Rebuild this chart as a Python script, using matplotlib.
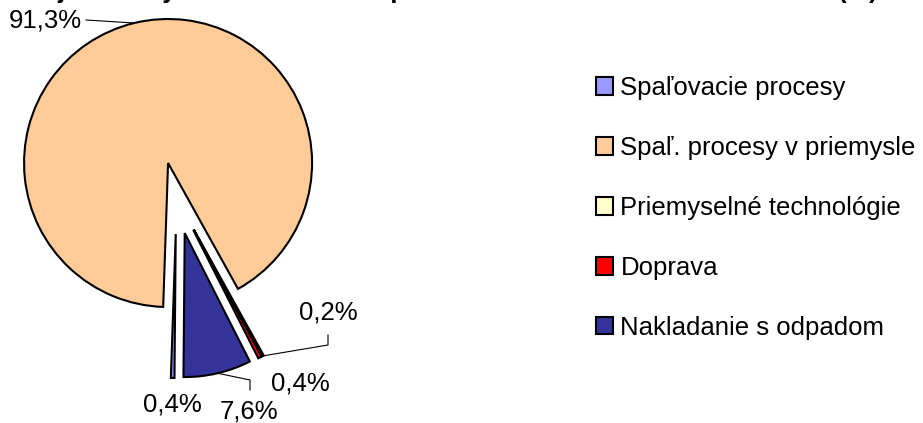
import numpy as np
import matplotlib
matplotlib.use('Agg')
import matplotlib.pyplot as plt

plt.rcParams['font.family'] = ['Liberation Sans', 'DejaVu Sans']

# data (percent)
categories = ['Spaľovacie procesy', 'Spaľ. procesy v priemysle',
              'Priemyselné technológie', 'Doprava', 'Nakladanie s odpadom']
shares = [0.4, 91.3, 0.2, 0.4, 7.6]
colors = ['#9999FF', '#FFCC99', '#FFFFCC', '#FF0000', '#333399']
title = 'Podiel jednotlivých sektorov a skupín na emisiách ortuti a kadmia v SR (%)'

# layout in pixels (y measured from top of image)
W, H = 923, 423
center_px = (176.5, 198)
radius_px = 144
explode_px = 36
# label centre, leader knee and leader end (None = no leader)
label_pos = [(172, 404), (45, 20), (328, 312), (300, 383), (249, 411)]
leader_knee = [None, None, (328, 345), None, (250, 380)]
leader_end = [None, (86, 20), (328, 335), None, (250, 390)]

fig = plt.figure(figsize=(W / 100, H / 100), dpi=100)
ax = fig.add_axes([0, 0, 1, 1])

wedges, _ = ax.pie(shares, colors=colors, startangle=-90.5, counterclock=False,
                   radius=radius_px, center=(center_px[0], H - center_px[1]),
                   explode=[explode_px] * len(shares),
                   wedgeprops=dict(edgecolor='black', linewidth=1.5))
ax.set_xlim(0, W)
ax.set_ylim(0, H)
ax.set_aspect('auto')
ax.axis('off')

for i, w in enumerate(wedges):
    txt = f'{shares[i]:.1f}%'.replace('.', ',')
    lx, ly = label_pos[i]
    ax.text(lx, H - ly, txt, ha='center', va='center', fontsize=18.5)
    if leader_end[i] is None:
        continue
    mid = np.deg2rad((w.theta1 + w.theta2) / 2)
    sx = w.center[0] + w.r * np.cos(mid)
    sy = w.center[1] + w.r * np.sin(mid)
    xs, ys = [sx], [sy]
    if leader_knee[i] is not None:
        xs.append(leader_knee[i][0]); ys.append(H - leader_knee[i][1])
    xs.append(leader_end[i][0]); ys.append(H - leader_end[i][1])
    ax.plot(xs, ys, color='black', lw=0.8)

leg = ax.legend(wedges, categories, loc='center left',
                bbox_to_anchor=(596 / W, 1 - 208 / H), bbox_transform=fig.transFigure,
                frameon=False, fontsize=18.5, handlelength=0.65, handleheight=0.65,
                handletextpad=0.3, labelspacing=1.4, borderpad=0, borderaxespad=0)
for h in leg.legend_handles:
    h.set_linewidth(1.5)

# title sits mostly above the visible area, only descenders show
fig.text(-25 / W, 1 + 2 / H, title, ha='left', va='baseline',
         fontsize=18.3, fontweight='bold')

fig.savefig('out.png', dpi=100)
